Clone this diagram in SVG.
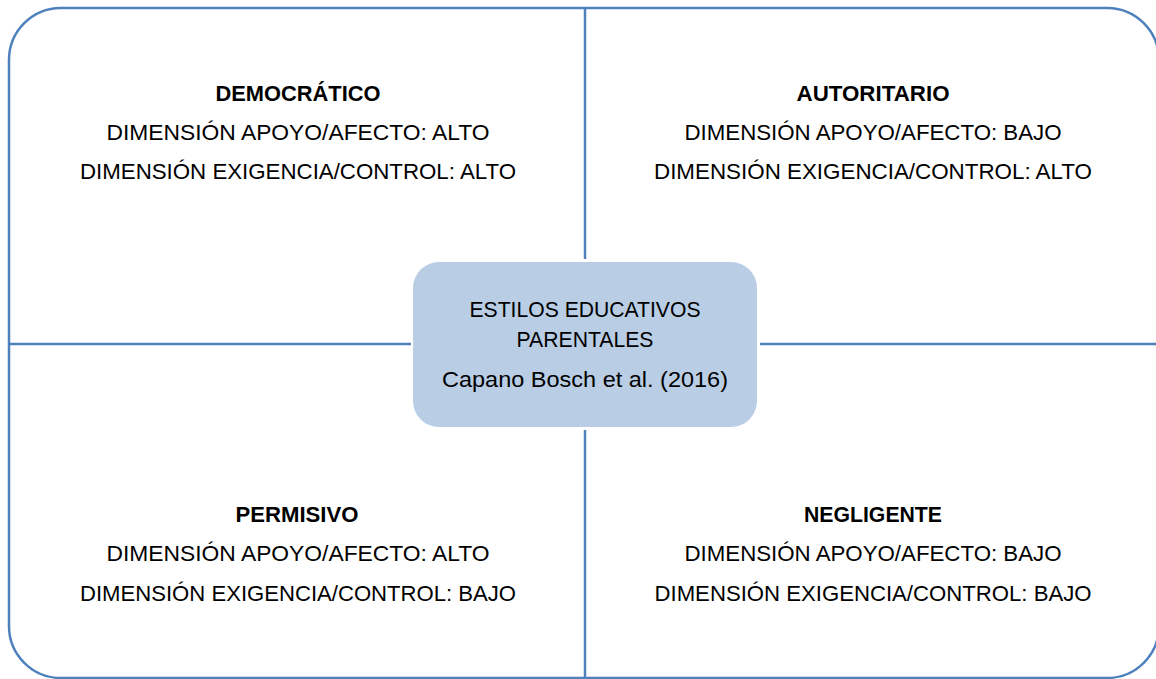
<svg xmlns="http://www.w3.org/2000/svg" width="1156" height="679" viewBox="0 0 1156 679">
<style>
.ln{stroke:#4F81BD;stroke-width:2.5;fill:none}
text{font-family:"Liberation Sans",Arial,sans-serif;font-size:22px;fill:#000;text-anchor:middle}
.b{font-weight:bold}
</style>
<rect width="1156" height="679" fill="#fff"/>
<g id="connectors">
<rect class="ln" x="9" y="8" width="1150" height="670" rx="52" ry="52"/>
<line class="ln" x1="585" y1="8" x2="585" y2="259"/>
<line class="ln" x1="585" y1="430" x2="585" y2="678"/>
<line class="ln" x1="9" y1="344" x2="411" y2="344"/>
<line class="ln" x1="760" y1="344" x2="1159" y2="344"/>
</g>
<g id="center">
<rect x="413" y="262" width="344" height="165" rx="26" ry="26" fill="#B9CDE5"/>
<text x="585" y="317" textLength="231" lengthAdjust="spacingAndGlyphs">ESTILOS EDUCATIVOS</text>
<text x="585" y="347" textLength="137" lengthAdjust="spacingAndGlyphs">PARENTALES</text>
<text x="585" y="387" textLength="286" lengthAdjust="spacingAndGlyphs">Capano Bosch et al. (2016)</text>
</g>
<g id="democratico">
<text class="b" x="298" y="101" textLength="165" lengthAdjust="spacingAndGlyphs">DEMOCRÁTICO</text>
<text x="298" y="140" textLength="383" lengthAdjust="spacingAndGlyphs">DIMENSIÓN APOYO/AFECTO: ALTO</text>
<text x="298" y="179" textLength="436" lengthAdjust="spacingAndGlyphs">DIMENSIÓN EXIGENCIA/CONTROL: ALTO</text>
</g>
<g id="autoritario">
<text class="b" x="873" y="101" textLength="153" lengthAdjust="spacingAndGlyphs">AUTORITARIO</text>
<text x="873" y="140" textLength="377" lengthAdjust="spacingAndGlyphs">DIMENSIÓN APOYO/AFECTO: BAJO</text>
<text x="873" y="179" textLength="438" lengthAdjust="spacingAndGlyphs">DIMENSIÓN EXIGENCIA/CONTROL: ALTO</text>
</g>
<g id="permisivo">
<text class="b" x="297" y="522" textLength="123" lengthAdjust="spacingAndGlyphs">PERMISIVO</text>
<text x="298" y="561" textLength="383" lengthAdjust="spacingAndGlyphs">DIMENSIÓN APOYO/AFECTO: ALTO</text>
<text x="298" y="601" textLength="436" lengthAdjust="spacingAndGlyphs">DIMENSIÓN EXIGENCIA/CONTROL: BAJO</text>
</g>
<g id="negligente">
<text class="b" x="873" y="522" textLength="138" lengthAdjust="spacingAndGlyphs">NEGLIGENTE</text>
<text x="873" y="561" textLength="377" lengthAdjust="spacingAndGlyphs">DIMENSIÓN APOYO/AFECTO: BAJO</text>
<text x="873" y="601" textLength="437" lengthAdjust="spacingAndGlyphs">DIMENSIÓN EXIGENCIA/CONTROL: BAJO</text>
</g>
</svg>
